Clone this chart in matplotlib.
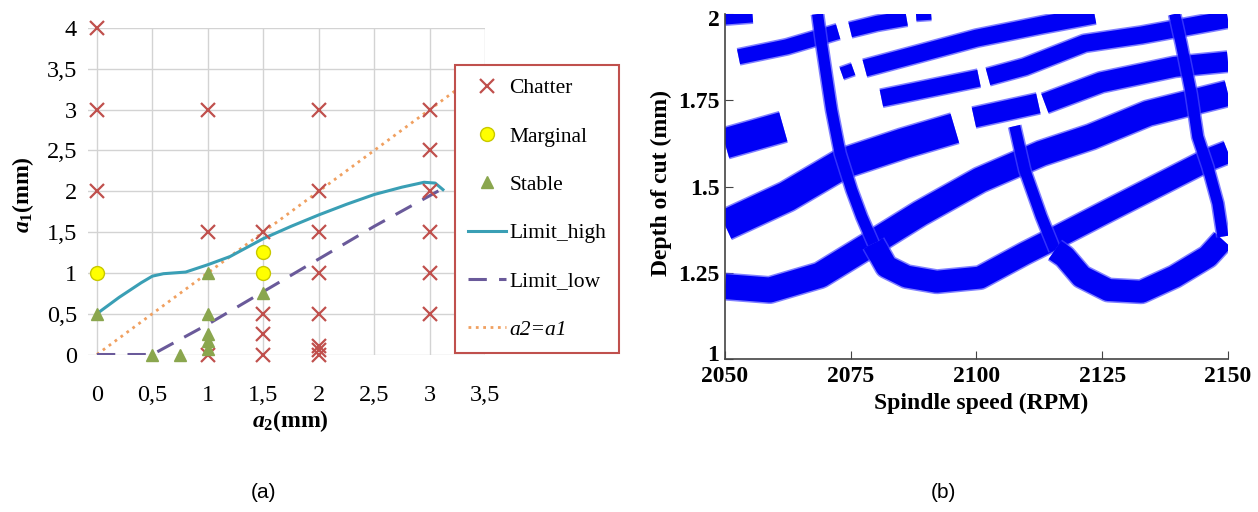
import numpy as np
import matplotlib
matplotlib.use("Agg")
import matplotlib.pyplot as plt
import matplotlib.transforms as mtransforms

plt.rcParams['font.family'] = 'Liberation Serif'
plt.rcParams['mathtext.fontset'] = 'custom'
plt.rcParams['mathtext.rm'] = 'Liberation Serif:bold'
plt.rcParams['mathtext.it'] = 'Liberation Serif:italic:bold'
plt.rcParams['mathtext.bf'] = 'Liberation Serif:bold'

# ---- panel (a): a2 vs a1 test points ----
chatter_x = [0, 0, 0, 1, 1, 1, 1.5, 1.5, 1.5, 1.5, 2, 2, 2, 2, 2, 2, 2, 2, 3, 3, 3, 3, 3, 3]
chatter_y = [4, 3, 2, 3, 1.5, 0, 1.5, 0.5, 0.25, 0, 3, 2, 1.5, 1, 0.5, 0.1, 0.05, 0, 3, 2.5, 2, 1.5, 1, 0.5]
marginal_x = [0, 1.5, 1.5]
marginal_y = [1, 1.25, 1]
stable_x = [0, 0.5, 0.75, 1, 1, 1, 1, 1, 1.5]
stable_y = [0.5, 0, 0, 1, 0.5, 0.25, 0.17, 0.07, 0.75]
high_x = [0, 0.2, 0.4, 0.5, 0.6, 0.8, 1.0, 1.2, 1.5, 1.75, 2.0, 2.25, 2.5, 2.75, 2.95, 3.05, 3.12]
high_y = [0.5, 0.7, 0.88, 0.96, 0.99, 1.01, 1.1, 1.2, 1.42, 1.57, 1.71, 1.84, 1.96, 2.05, 2.11, 2.1, 2.02]
low_x = [0, 0.5, 1, 1.5, 2, 2.5, 3.1]
low_y = [0, 0, 0.37, 0.77, 1.17, 1.57, 2.02]
diag_x = [0, 3.5]
diag_y = [0, 3.5]
a_ticks_x = [0, 0.5, 1, 1.5, 2, 2.5, 3, 3.5]
a_ticks_y = [0, 0.5, 1, 1.5, 2, 2.5, 3, 3.5, 4]

# ---- panel (b): stability bands (centre lines) ----
b_bands = [
    ([2050, 2055.5], [1.987, 1.993]),
    ([2052.7, 2062.3, 2072.5], [1.876, 1.905, 1.949]),
    ([2074.9, 2080.2, 2086.1], [1.954, 1.973, 1.988]),
    ([2088.0, 2091.0], [1.995, 1.998]),
    ([2073.2, 2075.5], [1.828, 1.840]),
    ([2077.8, 2088.8, 2100.0, 2112.9, 2123.5], [1.843, 1.886, 1.930, 1.968, 1.997]),
    ([2081.1, 2100.5], [1.756, 1.814]),
    ([2102.3, 2109.6, 2121.5, 2132.8, 2150], [1.818, 1.847, 1.915, 1.939, 1.985]),
    ([2050, 2061.6], [1.625, 1.673]),
    ([2050, 2062.3, 2073.5, 2085.5, 2095.7], [1.388, 1.471, 1.567, 1.625, 1.669]),
    ([2099.5, 2112.3], [1.700, 1.741]),
    ([2113.6, 2124.8, 2139.4, 2150], [1.741, 1.802, 1.847, 1.862]),
    ([2050, 2058.9, 2068.9, 2079.2, 2088.8, 2100.7, 2112.9, 2122.8, 2134.1, 2150],
     [1.21, 1.2, 1.243, 1.335, 1.422, 1.519, 1.596, 1.644, 1.712, 1.77]),
    ([2079.5, 2082.1, 2086.1, 2092.1, 2100.7, 2109.6, 2114.9, 2126.2, 2139.4, 2146, 2150],
     [1.335, 1.268, 1.239, 1.224, 1.236, 1.306, 1.345, 1.43, 1.528, 1.577, 1.6]),
    ([2068.4, 2069.2, 2071.2, 2072.9, 2075.2, 2077.2, 2079.5], [2.0, 1.915, 1.722, 1.596, 1.49, 1.412, 1.335]),
    ([2107.6, 2109.6, 2112.9, 2115.6], [1.675, 1.548, 1.413, 1.316]),
    ([2115.6, 2117.5, 2120.9, 2126.2, 2132.8, 2139.4, 2146, 2149], [1.316, 1.297, 1.239, 1.2, 1.195, 1.239, 1.297, 1.345]),
    ([2139.4, 2140.7, 2142.7, 2144, 2146, 2148, 2149], [2.0, 1.915, 1.77, 1.644, 1.557, 1.451, 1.355]),
]
# band thickness in pixels
b_widths = [12, 15, 15, 10, 12, 17, 17, 17, 30, 30, 20, 20, 25, 22, 11, 11, 22, 11]
b_ticks_x = [2050, 2075, 2100, 2125, 2150]
b_ticks_y = [1, 1.25, 1.5, 1.75, 2]


fig = plt.figure(figsize=(12.58, 5.12), dpi=100)

# ---------------- (a) ----------------
ax = fig.add_axes([0.07, 0.3076, 0.3156, 0.6377])
ax.set_xlim(-0.08, 3.5)
ax.set_ylim(0, 4)
ax.set_xticks(a_ticks_x)
ax.set_yticks(a_ticks_y)
ax.set_xticklabels(['{:g}'.format(v).replace('.', ',') for v in a_ticks_x])
ax.set_yticklabels(['{:g}'.format(v).replace('.', ',') for v in a_ticks_y])
ax.grid(True, color='#d3d3d3', lw=1)
ax.set_axisbelow(True)
for s in ax.spines.values():
    s.set_visible(False)
ax.tick_params(length=0, labelsize=17.5)
ax.tick_params(axis='x', pad=22)
ax.tick_params(axis='y', pad=8)

ax.plot(diag_x, diag_y, ':', color='#f0a060', lw=2, label='a2=a1', zorder=2)
ax.plot(high_x, high_y, '-', color='#3a9fb5', lw=2.2, label='Limit_high', zorder=3)
ax.plot(low_x, low_y, '--', color='#6a5a9a', lw=2.2, dashes=(6, 4), label='Limit_low', zorder=3)
ax.plot(chatter_x, chatter_y, 'x', color='#c0504d', ms=10, mew=1.6, ls='none', label='Chatter', clip_on=False, zorder=4)
ax.plot(marginal_x, marginal_y, 'o', mfc='#ffff00', mec='#c8c800', ms=10, ls='none', label='Marginal', zorder=4)
ax.plot(stable_x, stable_y, '^', color='#8aa64e', ms=9, ls='none', label='Stable', clip_on=False, zorder=4)

ax.set_xlabel(r'$a_2$(mm)', fontsize=17, fontweight='bold', va='center')
ax.xaxis.set_label_coords(0.509, -0.204)
ax.set_ylabel(r'$a_1$(mm)', fontsize=17, fontweight='bold', va='center')
ax.yaxis.set_label_coords(-0.164, 0.49)

h, l = ax.get_legend_handles_labels()
order = [3, 4, 5, 1, 2, 0]
leg = fig.legend([h[i] for i in order], [l[i] for i in order], loc='upper left',
                 bbox_to_anchor=(455 / 1258, 1 - 65 / 512), borderaxespad=0,
                 fancybox=False, framealpha=1, edgecolor='#c0504d', fontsize=15.5,
                 labelspacing=1.31, handlelength=1.75, handletextpad=0.15, borderpad=0.62)
leg.get_frame().set_linewidth(1.5)
leg.get_texts()[5].set_fontstyle('italic')

# ---------------- (b) ----------------
bx = fig.add_axes([0.5763, 0.2988, 0.3998, 0.6738])
for (xs, ys), w in zip(b_bands, b_widths):
    bx.plot(xs, ys, '-', color='#4a4aff', alpha=0.7, lw=(w + 3) * 0.72,
            solid_capstyle='butt', solid_joinstyle='round')
    bx.plot(xs, ys, '-', color='#0000f5', lw=w * 0.72,
            solid_capstyle='butt', solid_joinstyle='round')
bx.set_xlim(2050, 2150)
bx.set_ylim(1, 2)
bx.set_xticks(b_ticks_x)
bx.set_yticks(b_ticks_y)
bx.set_yticklabels(['{:g}'.format(v) for v in b_ticks_y])
bx.spines['top'].set_visible(False)
bx.spines['right'].set_visible(False)
for s in ['left', 'bottom']:
    bx.spines[s].set_color('#444444')
    bx.spines[s].set_linewidth(1.2)
bx.tick_params(direction='in', length=6, color='#444444', labelsize=17)
bx.tick_params(axis='x', pad=5)
bx.tick_params(axis='y', pad=4)
for t in bx.get_xticklabels() + bx.get_yticklabels():
    t.set_fontweight('bold')
# nudge the bottom and top y labels like the original
lab = bx.get_yticklabels()
lab[0].set_transform(lab[0].get_transform() + mtransforms.ScaledTranslation(0, 4 / 72, fig.dpi_scale_trans))
lab[-1].set_transform(lab[-1].get_transform() + mtransforms.ScaledTranslation(0, -3 / 72, fig.dpi_scale_trans))
bx.set_xlabel('Spindle speed (RPM)', fontsize=17, fontweight='bold', va='center')
bx.xaxis.set_label_coords(0.51, -0.13)
bx.set_ylabel('Depth of cut (mm)', fontsize=17, fontweight='bold', va='center')
bx.yaxis.set_label_coords(-0.127, 0.51)

fig.text(263 / 1258, 1 - 493 / 512, '(a)', family='Liberation Sans', fontsize=15, ha='center', va='center')
fig.text(943 / 1258, 1 - 493 / 512, '(b)', family='Liberation Sans', fontsize=15, ha='center', va='center')

fig.savefig('out.png', dpi=100)
